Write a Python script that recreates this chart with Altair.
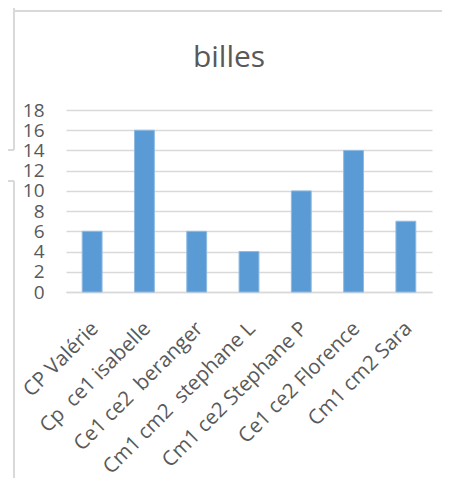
import altair as alt
import pandas as pd

categories = ["CP Valérie", "Cp\u00a0 ce1 isabelle", "Ce1 ce2\u00a0 beranger",
              "Cm1 cm2\u00a0 stephane L", "Cm1 ce2 Stephane P", "Ce1 ce2 Florence",
              "Cm1 cm2 Sara"]
values = [6, 16, 6, 4, 10, 14, 7]
y_ticks = list(range(0, 19, 2))
chart_title = "billes"

df = pd.DataFrame({"cat": categories, "val": values})

FONT = "Open Sans"
TXT = "#595959"
GRID = "#d9d9d9"

bars = alt.Chart(df).mark_bar(color="#5b9bd5", stroke="#8fbbe3", strokeWidth=1).encode(
    x=alt.X("cat:N", sort=None, title=None,
            scale=alt.Scale(paddingInner=0.62, paddingOuter=0.31),
            axis=alt.Axis(labelAngle=-45, labelFont=FONT, labelFontSize=20.5, labelColor=TXT,
                          ticks=False, domainColor=GRID, domainWidth=1.5, labelPadding=26,
                          labelOffset=-4, labelLimit=300)),
    y=alt.Y("val:Q", title=None, scale=alt.Scale(domain=[0, 18]),
            axis=alt.Axis(values=y_ticks, labelFont=FONT, labelFontSize=19, labelColor=TXT,
                          ticks=False, domain=False, gridColor=GRID, gridWidth=1.5,
                          labelPadding=22)),
)

decor = pd.DataFrame({"k": [0]})
base = alt.Chart(decor)
lines = [
    base.mark_rule(color=GRID, strokeWidth=2).encode(x=alt.value(-52), y=alt.value(-110), y2=alt.value(40)),
    base.mark_rule(color=GRID, strokeWidth=2).encode(x=alt.value(-66), x2=alt.value(-52), y=alt.value(40)),
    base.mark_rule(color=GRID, strokeWidth=2).encode(x=alt.value(-66), x2=alt.value(-52), y=alt.value(71)),
    base.mark_rule(color=GRID, strokeWidth=2).encode(x=alt.value(-52), y=alt.value(71), y2=alt.value(380)),
    base.mark_rule(color=GRID, strokeWidth=2).encode(x=alt.value(-52), x2=alt.value(390), y=alt.value(-99)),
]

title_df = pd.DataFrame({"t": [chart_title]})
title = alt.Chart(title_df).mark_text(font=FONT, fontSize=30, color=TXT, align="center",
                                      baseline="alphabetic").encode(
    text="t:N", x=alt.value(163), y=alt.value(-43))

chart = alt.layer(*lines, title, bars).properties(
    width=366, height=182,
    autosize=alt.AutoSizeParams(type="none"),
    padding={"left": 58, "top": 102, "right": 10, "bottom": 186},
).configure_view(stroke=None)

chart.save("out.html", embed_options={"renderer": "svg", "actions": False})
